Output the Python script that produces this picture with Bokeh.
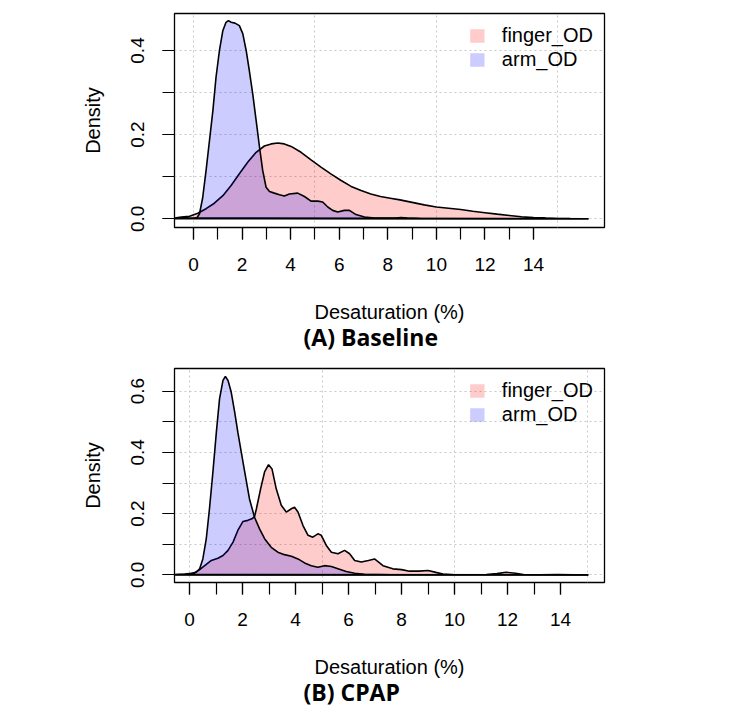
from bokeh.plotting import figure
from bokeh.models import Range1d, FixedTicker, Title, PrintfTickFormatter
from bokeh.layouts import column
from bokeh.embed import file_html
from bokeh.resources import INLINE

# ---------------- data ----------------
# (A) Baseline
base_finger_x = [-0.78, -0.5, -0.16, 0.18, 0.52, 0.86, 1.21, 1.55, 1.89, 2.24, 2.58, 2.92,
                 3.2, 3.47, 3.74, 4.02, 4.43, 4.84, 5.25, 5.67, 6.08, 6.49, 6.9, 7.3, 7.7,
                 8.1, 8.5, 9.0, 9.5, 10.0, 10.5, 11.0, 11.5, 12.0, 12.5, 13.0, 13.5, 14.0,
                 14.5, 15.0, 15.5, 16.0, 16.26]
base_finger_y = [0.002, 0.004, 0.006, 0.013, 0.024, 0.037, 0.055, 0.079, 0.107, 0.135, 0.158,
                 0.173, 0.178, 0.18, 0.178, 0.172, 0.158, 0.14, 0.123, 0.106, 0.091, 0.077,
                 0.067, 0.059, 0.053, 0.049, 0.045, 0.039, 0.033, 0.028, 0.025, 0.022, 0.018,
                 0.0145, 0.011, 0.008, 0.005, 0.003, 0.0017, 0.0008, 0.0003, 0.0001, 0.0]

base_arm_x = [-0.78, 0.0, 0.15, 0.25, 0.38, 0.52, 0.66, 0.8, 0.93, 1.07, 1.21, 1.34, 1.44,
              1.55, 1.71, 1.89, 2.03, 2.17, 2.3, 2.44, 2.58, 2.72, 2.85, 2.99, 3.13, 3.33,
              3.54, 3.74, 3.95, 4.29, 4.57, 4.84, 5.12, 5.32, 5.53, 5.73, 5.94, 6.21, 6.42,
              6.69, 7.04, 7.45, 7.86, 8.3, 8.55, 8.8, 9.3, 10.0, 16.26]
base_arm_y = [0.0, 0.0005, 0.003, 0.012, 0.05, 0.115, 0.186, 0.257, 0.337, 0.4, 0.447, 0.467,
              0.471, 0.467, 0.465, 0.459, 0.44, 0.4, 0.352, 0.297, 0.234, 0.17, 0.115, 0.075,
              0.065, 0.061, 0.057, 0.054, 0.059, 0.061, 0.053, 0.042, 0.042, 0.04, 0.028,
              0.02, 0.016, 0.02, 0.02, 0.01, 0.004, 0.0016, 0.0016, 0.002, 0.003, 0.002,
              0.0005, 0.0, 0.0]

# (B) CPAP
cpap_finger_x = [-0.57, -0.19, 0.19, 0.38, 0.57, 0.82, 1.07, 1.26, 1.45, 1.64, 1.82, 2.01,
                 2.2, 2.35, 2.45, 2.52, 2.68, 2.83, 2.98, 3.11, 3.27, 3.46, 3.65, 3.84, 3.96,
                 4.09, 4.28, 4.47, 4.65, 4.84, 4.97, 5.16, 5.35, 5.6, 5.85, 6.04, 6.23, 6.48,
                 6.75, 6.98, 7.3, 7.67, 8.0, 8.3, 8.65, 9.0, 9.3, 9.56, 10.0, 10.6, 11.2,
                 11.6, 11.95, 12.3, 12.6, 13.2, 13.9, 14.5, 15.05]
cpap_finger_y = [0.001, 0.003, 0.006, 0.017, 0.03, 0.047, 0.054, 0.063, 0.08, 0.107, 0.145,
                 0.174, 0.178, 0.183, 0.19, 0.215, 0.281, 0.336, 0.36, 0.346, 0.281, 0.227,
                 0.205, 0.216, 0.221, 0.205, 0.161, 0.129, 0.123, 0.134, 0.129, 0.096, 0.074,
                 0.069, 0.08, 0.069, 0.047, 0.042, 0.047, 0.052, 0.03, 0.0196, 0.017, 0.012,
                 0.012, 0.014, 0.008, 0.003, 0.0005, 0.0003, 0.001, 0.004, 0.0085, 0.005,
                 0.001, 0.0003, 0.001, 0.0003, 0.0]

cpap_arm_x = [-0.57, 0.0, 0.25, 0.38, 0.5, 0.63, 0.75, 0.88, 1.01, 1.13, 1.26, 1.35, 1.45,
              1.57, 1.7, 1.82, 1.95, 2.08, 2.26, 2.45, 2.64, 2.83, 3.08, 3.33, 3.58, 3.84,
              4.09, 4.34, 4.59, 4.84, 5.09, 5.35, 5.6, 5.91, 6.23, 6.6, 7.1, 7.6, 15.05]
cpap_arm_y = [0.0, 0.002, 0.009, 0.02, 0.052, 0.118, 0.216, 0.336, 0.466, 0.575, 0.635, 0.648,
              0.635, 0.597, 0.532, 0.466, 0.401, 0.336, 0.248, 0.188, 0.15, 0.118, 0.09,
              0.074, 0.066, 0.061, 0.052, 0.039, 0.03, 0.025, 0.03, 0.027, 0.02, 0.011,
              0.005, 0.002, 0.001, 0.0, 0.0]

x_major_ticks = [0, 2, 4, 6, 8, 10, 12, 14]
x_minor_ticks = list(range(0, 15))
x_grid_ticks = [0, 5, 10, 15]

base_y_major = [0.0, 0.2, 0.4]
base_y_minor = [0.0, 0.1, 0.2, 0.3, 0.4]
cpap_y_major = [0.0, 0.2, 0.4, 0.6]
cpap_y_minor = [0.0, 0.1, 0.2, 0.3, 0.4, 0.5, 0.6]

series_names = ["finger_OD", "arm_OD"]
panel_titles = ["(A) Baseline", "(B) CPAP"]
x_label = "Desaturation (%)"
y_label = "Density"

FONT = "Liberation Sans"


def make_panel(title, fx, fy, ax, ay, xr, yr, y_major, y_minor, top_border, bottom_border):
    p = figure(frame_width=430, frame_height=214, x_range=Range1d(*xr), y_range=Range1d(*yr),
               output_backend="svg", toolbar_location=None, title=None,
               min_border_left=174, min_border_right=113,
               min_border_top=top_border, min_border_bottom=bottom_border)
    p.background_fill_color = "white"
    p.border_fill_color = "white"
    p.outline_line_color = "black"
    p.outline_line_width = 1.3

    # grid
    p.xgrid.ticker = FixedTicker(ticks=x_grid_ticks)
    p.ygrid.ticker = FixedTicker(ticks=y_minor)
    for g in (p.xgrid, p.ygrid):
        g.grid_line_color = "#c8c8c8"
        g.grid_line_dash = "2 3"
        g.grid_line_width = 1

    # densities
    p.varea(x=fx, y1=0, y2=fy, fill_color="red", fill_alpha=0.2, legend_label=series_names[0])
    p.line(fx + [fx[0]], fy + [fy[0]], line_color="black", line_width=1.6)
    p.varea(x=ax, y1=0, y2=ay, fill_color="blue", fill_alpha=0.2, legend_label=series_names[1])
    p.line(ax + [ax[0]], ay + [ay[0]], line_color="black", line_width=1.6)

    # axes
    p.xaxis.ticker = FixedTicker(ticks=x_major_ticks, minor_ticks=x_minor_ticks)
    p.yaxis.ticker = FixedTicker(ticks=y_major, minor_ticks=y_minor)
    p.yaxis.formatter = PrintfTickFormatter(format="%.1f")
    p.yaxis.major_label_orientation = "vertical"
    for a in (p.xaxis, p.yaxis):
        a.axis_line_color = None
        a.major_tick_in = 0
        a.major_tick_out = 12
        a.minor_tick_in = 0
        a.minor_tick_out = 12
        a.major_tick_line_color = "black"
        a.minor_tick_line_color = "black"
        a.major_tick_line_width = 1.2
        a.minor_tick_line_width = 1.2
        a.major_label_text_font = FONT
        a.major_label_text_font_size = "19px"
        a.major_label_text_color = "black"
        a.axis_label_text_font = FONT
        a.axis_label_text_font_size = "20px"
        a.axis_label_text_font_style = "normal"
        a.axis_label_text_color = "black"
    p.xaxis.major_label_standoff = 18
    p.yaxis.major_label_standoff = 18
    p.xaxis.axis_label = x_label
    p.yaxis.axis_label = y_label
    p.xaxis.axis_label_standoff = 27
    p.yaxis.axis_label_standoff = 25

    # legend
    lg = p.legend[0]
    lg.location = "top_right"
    lg.border_line_color = None
    lg.background_fill_alpha = 0
    lg.label_text_font = FONT
    lg.label_text_font_size = "20px"
    lg.label_text_color = "black"
    lg.glyph_width = 18
    lg.glyph_height = 17
    lg.label_standoff = 16
    lg.padding = 8
    lg.margin = 11
    lg.spacing = 1

    t = Title(text=title, align="left", offset=129, text_font="Open Sans",
              text_font_size="23px", text_font_style="bold", text_color="black", standoff=-13)
    p.add_layout(t, "below")
    return p


p1 = make_panel(panel_titles[0], base_finger_x, base_finger_y, base_arm_x, base_arm_y,
                (-0.78, 16.92), (-0.0207, 0.4879), base_y_major, base_y_minor, 13, 131)
p2 = make_panel(panel_titles[1], cpap_finger_x, cpap_finger_y, cpap_arm_x, cpap_arm_y,
                (-0.57, 15.66), (-0.025, 0.674), cpap_y_major, cpap_y_minor, 10, 130)

layout = column(p1, p2, spacing=0)
open("out.html", "w").write(file_html(layout, INLINE))
